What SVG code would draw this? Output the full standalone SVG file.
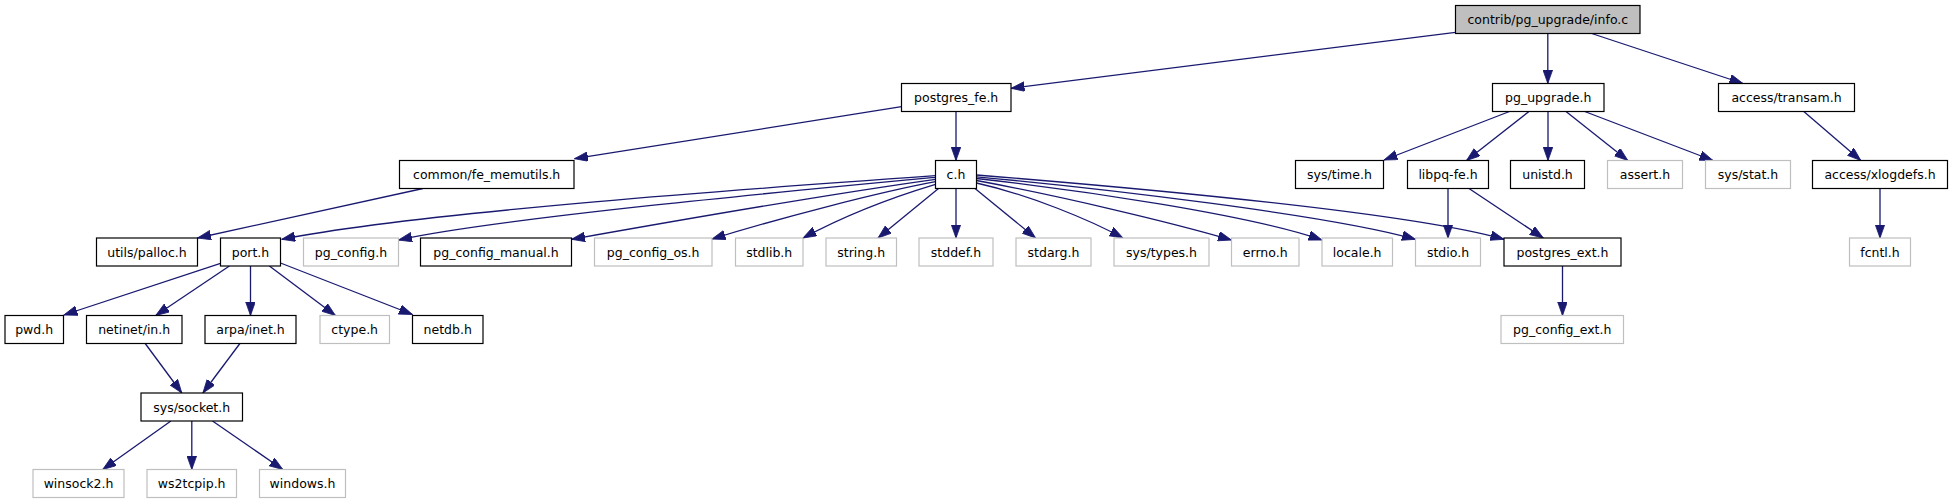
<svg xmlns="http://www.w3.org/2000/svg" width="1952" height="504" viewBox="0 0 1952 504">
<style>
.n rect{fill:#fff;stroke:#000;stroke-width:1.2}
.n.g rect{stroke:#bfbfbf}
.n.root rect{fill:#bfbfbf}
.n text{font-family:"DejaVu Sans",sans-serif;font-size:12.5px;fill:#000;text-anchor:middle}
#edges path{fill:none;stroke:#191970;stroke-width:1.3;marker-end:url(#ah)}
</style>
<defs>
<marker id="ah" markerUnits="userSpaceOnUse" markerWidth="14" markerHeight="10" refX="13.5" refY="4.8" orient="auto" viewBox="0 0 14 10">
<path d="M0,0 L13.5,4.8 L0,9.6 z" fill="#191970" stroke="#191970" stroke-width="0.8"/>
</marker>
</defs>
<rect width="1952" height="504" fill="#fff"/>
<g id="edges">
<path d="M1455.5,32.3 L1011,88.3"/>
<path d="M1547.8,33.5 L1547.8,83.5"/>
<path d="M1591.7,33.5 L1743,83.5"/>
<path d="M901.5,106.7 L574.5,158.7"/>
<path d="M956,111.5 L956,160.5"/>
<path d="M1509.5,111.5 L1384,160"/>
<path d="M1529,111.5 L1466.5,160.5"/>
<path d="M1548,111.5 L1548,160.5"/>
<path d="M1566,111.5 L1627.8,160.5"/>
<path d="M1584.7,111.5 L1713,160.5"/>
<path d="M1803.8,111.5 L1860.8,160.5"/>
<path d="M1880,188.5 L1880,238"/>
<path d="M1448,188.5 L1448,238"/>
<path d="M1469,188.5 L1543.3,238"/>
<path d="M423,188.5 L197.5,238"/>
<path d="M1562.5,266 L1562.5,315.5"/>
<path d="M935.5,175.7 C760,188 420,212 281.7,239.3"/>
<path d="M935.5,177.3 C800,190 500,218 398.5,240"/>
<path d="M935.5,179.3 C830,194 680,220 571.5,239.3"/>
<path d="M935.5,181.7 C880,192 780,218 712,239"/>
<path d="M935.5,184.3 C890,198 840,218 803,238"/>
<path d="M938.5,188.5 L878,238"/>
<path d="M956,188.5 L956,238"/>
<path d="M975,188.5 L1035.6,238"/>
<path d="M976.5,183 C1030,195 1090,220 1123,238"/>
<path d="M976.5,180.5 C1060,196 1170,222 1231.5,240"/>
<path d="M976.5,178.5 C1080,190 1250,215 1322,240"/>
<path d="M976.5,176.8 C1100,188 1330,215 1415.5,239.3"/>
<path d="M976.5,175 C1100,185 1400,210 1504,239.3"/>
<path d="M220.5,263.3 L63.8,315"/>
<path d="M229.4,266 L155.7,315.5"/>
<path d="M250.5,266 L250.5,315.5"/>
<path d="M269.4,266 L335.4,315.5"/>
<path d="M280.5,263 L412.5,314.5"/>
<path d="M145.2,343.5 L181.8,393"/>
<path d="M239.9,343.5 L202.9,393"/>
<path d="M170.9,421 L102.7,469.5"/>
<path d="M191.8,421 L191.8,469.5"/>
<path d="M212.5,421 L282.8,469.5"/>
</g>
<g id="n_info" class="n root"><rect x="1455.5" y="5.5" width="184.5" height="28"/><text x="1547.8" y="24">contrib/pg_upgrade/info.c</text></g>
<g id="n_postgres_fe" class="n"><rect x="901.5" y="83.5" width="109.5" height="28"/><text x="956.2" y="102">postgres_fe.h</text></g>
<g id="n_pg_upgrade" class="n"><rect x="1492.5" y="83.5" width="111.5" height="28"/><text x="1548.2" y="102">pg_upgrade.h</text></g>
<g id="n_transam" class="n"><rect x="1718.5" y="83.5" width="136" height="28"/><text x="1786.5" y="102">access/transam.h</text></g>
<g id="n_fe_memutils" class="n"><rect x="399.5" y="160.5" width="174.5" height="28"/><text x="486.7" y="179">common/fe_memutils.h</text></g>
<g id="n_c" class="n"><rect x="935.5" y="160.5" width="41" height="28"/><text x="956" y="179">c.h</text></g>
<g id="n_sys_time" class="n"><rect x="1295.5" y="160.5" width="88" height="28"/><text x="1339.5" y="179">sys/time.h</text></g>
<g id="n_libpq_fe" class="n"><rect x="1407.5" y="160.5" width="81" height="28"/><text x="1448" y="179">libpq-fe.h</text></g>
<g id="n_unistd" class="n"><rect x="1510.5" y="160.5" width="74" height="28"/><text x="1547.5" y="179">unistd.h</text></g>
<g id="n_assert" class="n g"><rect x="1607.5" y="160.5" width="75" height="28"/><text x="1645" y="179">assert.h</text></g>
<g id="n_sys_stat" class="n g"><rect x="1705.5" y="160.5" width="85" height="28"/><text x="1748" y="179">sys/stat.h</text></g>
<g id="n_xlogdefs" class="n"><rect x="1812.5" y="160.5" width="135" height="28"/><text x="1880" y="179">access/xlogdefs.h</text></g>
<g id="n_palloc" class="n"><rect x="96.5" y="238" width="101" height="28"/><text x="147" y="256.5">utils/palloc.h</text></g>
<g id="n_port" class="n"><rect x="220.5" y="238" width="60" height="28"/><text x="250.5" y="256.5">port.h</text></g>
<g id="n_pg_config" class="n g"><rect x="303.5" y="238" width="95" height="28"/><text x="351" y="256.5">pg_config.h</text></g>
<g id="n_pg_config_manual" class="n"><rect x="420.5" y="238" width="151" height="28"/><text x="496" y="256.5">pg_config_manual.h</text></g>
<g id="n_pg_config_os" class="n g"><rect x="594.5" y="238" width="117.5" height="28"/><text x="653.2" y="256.5">pg_config_os.h</text></g>
<g id="n_stdlib" class="n g"><rect x="735.5" y="238" width="67.5" height="28"/><text x="769.2" y="256.5">stdlib.h</text></g>
<g id="n_string" class="n g"><rect x="826" y="238" width="70.5" height="28"/><text x="861.2" y="256.5">string.h</text></g>
<g id="n_stddef" class="n g"><rect x="919" y="238" width="74" height="28"/><text x="956" y="256.5">stddef.h</text></g>
<g id="n_stdarg" class="n g"><rect x="1016" y="238" width="75" height="28"/><text x="1053.5" y="256.5">stdarg.h</text></g>
<g id="n_sys_types" class="n g"><rect x="1114" y="238" width="95" height="28"/><text x="1161.5" y="256.5">sys/types.h</text></g>
<g id="n_errno" class="n g"><rect x="1231.5" y="238" width="67.5" height="28"/><text x="1265.2" y="256.5">errno.h</text></g>
<g id="n_locale" class="n g"><rect x="1322" y="238" width="70.5" height="28"/><text x="1357.2" y="256.5">locale.h</text></g>
<g id="n_stdio" class="n g"><rect x="1415.5" y="238" width="65" height="28"/><text x="1448" y="256.5">stdio.h</text></g>
<g id="n_postgres_ext" class="n"><rect x="1504" y="238" width="117" height="28"/><text x="1562.5" y="256.5">postgres_ext.h</text></g>
<g id="n_fcntl" class="n g"><rect x="1849.5" y="238" width="61" height="28"/><text x="1880" y="256.5">fcntl.h</text></g>
<g id="n_pwd" class="n"><rect x="5" y="315.5" width="58.5" height="28"/><text x="34.2" y="334">pwd.h</text></g>
<g id="n_netinet_in" class="n"><rect x="86.5" y="315.5" width="95.5" height="28"/><text x="134.2" y="334">netinet/in.h</text></g>
<g id="n_arpa_inet" class="n"><rect x="205" y="315.5" width="91" height="28"/><text x="250.5" y="334">arpa/inet.h</text></g>
<g id="n_ctype" class="n g"><rect x="320" y="315.5" width="69.5" height="28"/><text x="354.7" y="334">ctype.h</text></g>
<g id="n_netdb" class="n"><rect x="412.5" y="315.5" width="70.5" height="28"/><text x="447.7" y="334">netdb.h</text></g>
<g id="n_pg_config_ext" class="n g"><rect x="1501" y="315.5" width="122.5" height="28"/><text x="1562.2" y="334">pg_config_ext.h</text></g>
<g id="n_sys_socket" class="n"><rect x="141" y="393" width="101.5" height="28"/><text x="191.7" y="411.5">sys/socket.h</text></g>
<g id="n_winsock2" class="n g"><rect x="33" y="469.5" width="91" height="28"/><text x="78.5" y="488">winsock2.h</text></g>
<g id="n_ws2tcpip" class="n g"><rect x="147" y="469.5" width="89.5" height="28"/><text x="191.7" y="488">ws2tcpip.h</text></g>
<g id="n_windows" class="n g"><rect x="259.5" y="469.5" width="86" height="28"/><text x="302.5" y="488">windows.h</text></g>
</svg>
